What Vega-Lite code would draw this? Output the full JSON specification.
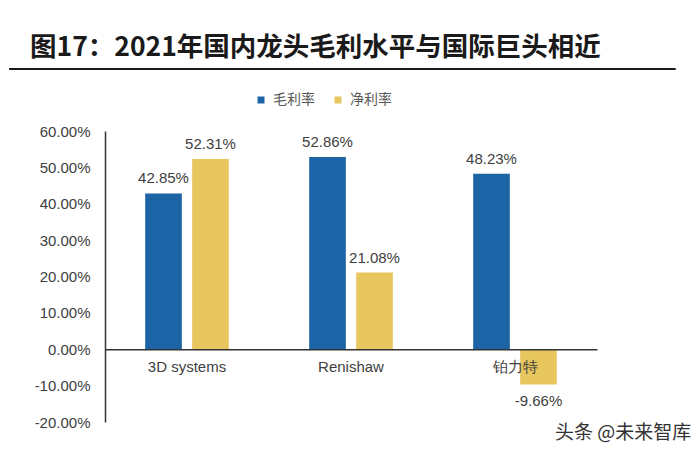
{
  "$schema": "https://vega.github.io/schema/vega-lite/v6.json",
  "width": 492,
  "height": 291,
  "padding": {"left": 8, "top": 35, "right": 0, "bottom": 0},
  "background": "white",
  "title": {
    "text": "图17：2021年国内龙头毛利水平与国际巨头相近",
    "anchor": "start",
    "font": "Noto Sans CJK SC",
    "fontSize": 26.5,
    "fontWeight": "bold",
    "color": "#1a1a1a",
    "offset": 6,
    "dx": 22
  },
  "config": {
    "view": {"stroke": null},
    "font": "Liberation Sans",
    "axisY": {"labelOverlap": false, "labelBound": false},
    "locale": {
      "number": {"decimal": ".", "thousands": ",", "grouping": [3], "currency": ["$", ""], "minus": "-"}
    }
  },
  "data": {
    "values": [
      {"company": "3D systems", "metric": "毛利率", "value": 0.4285},
      {"company": "3D systems", "metric": "净利率", "value": 0.5231},
      {"company": "Renishaw", "metric": "毛利率", "value": 0.5286},
      {"company": "Renishaw", "metric": "净利率", "value": 0.2108},
      {"company": "铂力特", "metric": "毛利率", "value": 0.4823},
      {"company": "铂力特", "metric": "净利率", "value": -0.0966}
    ]
  },
  "layer": [
    {
      "encoding": {
        "x": {
          "field": "company",
          "type": "nominal",
          "sort": null,
          "scale": {"domain": ["3D systems", "Renishaw", "铂力特"], "paddingInner": 0.49, "paddingOuter": 0.245},
          "axis": {
            "title": null,
            "orient": "bottom",
            "offset": -72.75,
            "labelAngle": 0,
            "ticks": false,
            "tickSize": 0,
            "labelPadding": 10,
            "labelFont": "Liberation Sans",
            "labelFontSize": 15,
            "labelColor": "#404040",
            "domainColor": "#333333",
            "domainWidth": 1.5,
            "zindex": 1
          }
        },
        "xOffset": {
          "field": "metric",
          "type": "nominal",
          "sort": null,
          "scale": {"domain": ["毛利率", "净利率"], "paddingInner": 0.22, "paddingOuter": 0}
        },
        "y": {
          "field": "value",
          "type": "quantitative",
          "scale": {"domain": [-0.2, 0.6], "nice": false, "zero": false},
          "axis": {
            "title": null,
            "values": [-0.2, -0.1, 0, 0.1, 0.2, 0.3, 0.4, 0.5, 0.6],
            "format": ".2%",
            "labelOverlap": false,
            "grid": false,
            "ticks": false,
            "tickSize": 0,
            "labelPadding": 15,
            "labelFont": "Liberation Sans",
            "labelFontSize": 15,
            "labelColor": "#404040",
            "domainColor": "#333333",
            "domainWidth": 1.5
          }
        }
      },
      "layer": [
        {
          "mark": {"type": "bar", "clip": false},
          "encoding": {
            "color": {
              "field": "metric",
              "type": "nominal",
              "sort": null,
              "scale": {"domain": ["毛利率", "净利率"], "range": ["#1C64A6", "#E7C65E"]},
              "legend": {
                "title": null,
                "orient": "none",
                "legendX": 149,
                "legendY": -38,
                "direction": "horizontal",
                "symbolType": "square",
                "symbolSize": 49,
                "symbolStrokeWidth": 0,
                "labelFont": "Noto Sans CJK SC",
                "labelFontSize": 14,
                "labelColor": "#595959",
                "labelOffset": 5,
                "columnPadding": 16,
                "padding": 0
              }
            }
          }
        },
        {
          "transform": [{"filter": "datum.value >= 0"}],
          "mark": {"type": "text", "baseline": "middle", "dy": -15, "fontSize": 15, "color": "#404040", "font": "Liberation Sans"},
          "encoding": {"text": {"field": "value", "type": "quantitative", "format": ".2%"}}
        },
        {
          "transform": [{"filter": "datum.value < 0"}],
          "mark": {"type": "text", "baseline": "middle", "dy": 17, "fontSize": 15, "color": "#404040", "font": "Liberation Sans"},
          "encoding": {"text": {"field": "value", "type": "quantitative", "format": ".2%"}}
        }
      ]
    },
    {
      "data": {"values": [{}]},
      "mark": {"type": "rule", "color": "#1a1a1a", "strokeWidth": 2, "clip": false},
      "encoding": {
        "x": {"datum": -0.195, "type": "quantitative", "scale": {"domain": [0, 1], "nice": false, "zero": false}, "axis": null},
        "x2": {"datum": 1.16},
        "y": {"datum": 0.7705, "type": "quantitative", "scale": {"domain": [-0.2, 0.6], "nice": false, "zero": false}, "axis": null}
      }
    },
    {
      "data": {"values": [{"wm": "头条 @未来智库"}]},
      "mark": {"type": "text", "font": "Noto Sans CJK SC", "fontSize": 19, "color": "#333333", "align": "center", "baseline": "middle", "clip": false},
      "encoding": {
        "text": {"field": "wm", "type": "nominal"},
        "x": {"datum": 1.053, "type": "quantitative", "scale": {"domain": [0, 1], "nice": false, "zero": false}, "axis": null},
        "y": {"datum": -0.23, "type": "quantitative", "scale": {"domain": [-0.2, 0.6], "nice": false, "zero": false}, "axis": null}
      }
    }
  ],
  "resolve": {"scale": {"x": "independent"}, "axis": {"x": "independent", "y": "independent"}}
}
